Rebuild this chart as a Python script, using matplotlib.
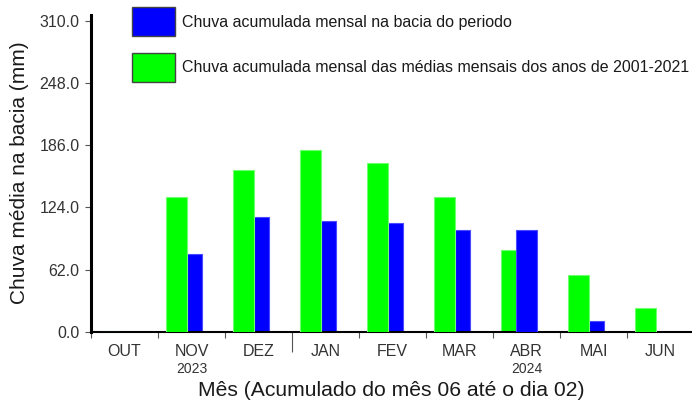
import matplotlib
matplotlib.use('Agg')
import matplotlib.pyplot as plt
import matplotlib.transforms as mtransforms
from matplotlib.patches import Patch
import numpy as np

plt.rcParams['font.family'] = ['Liberation Sans', 'DejaVu Sans']

months = ['OUT', 'NOV', 'DEZ', 'JAN', 'FEV', 'MAR', 'ABR', 'MAI', 'JUN']
chuva_periodo = [0, 78, 115, 110.5, 109, 102, 102, 11, 0]
chuva_media = [0, 134, 161, 181.5, 168.5, 134.5, 81.5, 57, 24]
yticks = [0.0, 62.0, 124.0, 186.0, 248.0, 310.0]
year_labels = ['2023', '2024']
year_month_idx = [1, 6]
label_periodo = 'Chuva acumulada mensal na bacia do periodo'
label_media = 'Chuva acumulada mensal das médias mensais dos anos de 2001-2021'

GREEN = '#00ff00'
BLUE = '#0000ff'

W, H = 692, 404
fig = plt.figure(figsize=(W / 100, H / 100), dpi=100)
ax = fig.add_axes([91 / W, (H - 332) / H, (W - 91) / W, (332 - 15) / H])

x = np.arange(len(months))
gbars = ax.bar(x + 0.12, chuva_media, width=0.318, align='edge', color=GREEN,
               edgecolor='#70ff70', linewidth=0.8)
bbars = ax.bar(x + 0.343, chuva_periodo, width=0.318, align='edge', color=BLUE,
               edgecolor='#4a4aff', linewidth=0.8)
for g, b, gv, bv in zip(gbars, bbars, chuva_media, chuva_periodo):
    if bv > gv:
        g.set_zorder(2); b.set_zorder(3)
    else:
        g.set_zorder(3); b.set_zorder(2)

ax.set_xlim(0, 601 / 67)
ax.set_ylim(0, 315.7)

for s in ['top', 'right']:
    ax.spines[s].set_visible(False)
ax.spines['left'].set_linewidth(2.2)
ax.spines['bottom'].set_linewidth(1.5)
ax.spines['left'].set_color('black')
ax.spines['bottom'].set_color('black')

ax.set_yticks(yticks)
ax.set_yticklabels([f'{v:.1f}' for v in yticks])
ax.tick_params(axis='y', direction='out', length=4.3, width=0.8, color='#555555',
               labelsize=11.5, labelcolor='#333333', pad=4)

ax.set_xticks(np.arange(0, len(months)))
ax.set_xticklabels([])
ax.set_xticks(x + 0.5, minor=True)
ax.set_xticklabels(months, minor=True)
ax.tick_params(axis='x', which='major', direction='out', length=4.3, width=0.8,
               color='#555555')
ax.tick_params(axis='x', which='minor', length=0, labelsize=11.5,
               labelcolor='#333333', pad=9)
ax.xaxis.get_major_ticks()[3].tick1line.set_markersize(14.4)

trans = mtransforms.blended_transform_factory(ax.transData, fig.transFigure)
for lab, idx in zip(year_labels, year_month_idx):
    ax.text(idx + 0.5, 1 - 369 / H, lab, transform=trans, ha='center', va='center',
            fontsize=10, color='#333333')

ax.set_xlabel('Mês (Acumulado do mês 06 até o dia 02)', fontsize=15.2, color='#1a1a1a')
ax.xaxis.set_label_coords(391 / W, 1 - 390 / H, transform=fig.transFigure)
ax.xaxis.label.set_va('center')
ax.set_ylabel('Chuva média na bacia (mm)', fontsize=15, color='#1a1a1a')
ax.yaxis.set_label_coords(20 / W, 1 - 173 / H, transform=fig.transFigure)
ax.yaxis.label.set_va('center')

handles = [Patch(facecolor=BLUE, edgecolor='#444444', linewidth=1),
           Patch(facecolor=GREEN, edgecolor='#444444', linewidth=1)]
fs_px = 11.5 * 100 / 72
hh = (29 / fs_px - 0.245) / 0.65
fig.legend(handles, [label_periodo, label_media], loc='upper left',
           bbox_to_anchor=(131.7 / W, 1 - 7.3 / H), bbox_transform=fig.transFigure,
           frameon=False, fontsize=11.5, handlelength=43.3 / fs_px,
           handleheight=hh, handletextpad=6.5 / fs_px,
           labelspacing=16.5 / fs_px, borderpad=0, borderaxespad=0,
           labelcolor='#1a1a1a')

fig.savefig('out.png', dpi=100)
